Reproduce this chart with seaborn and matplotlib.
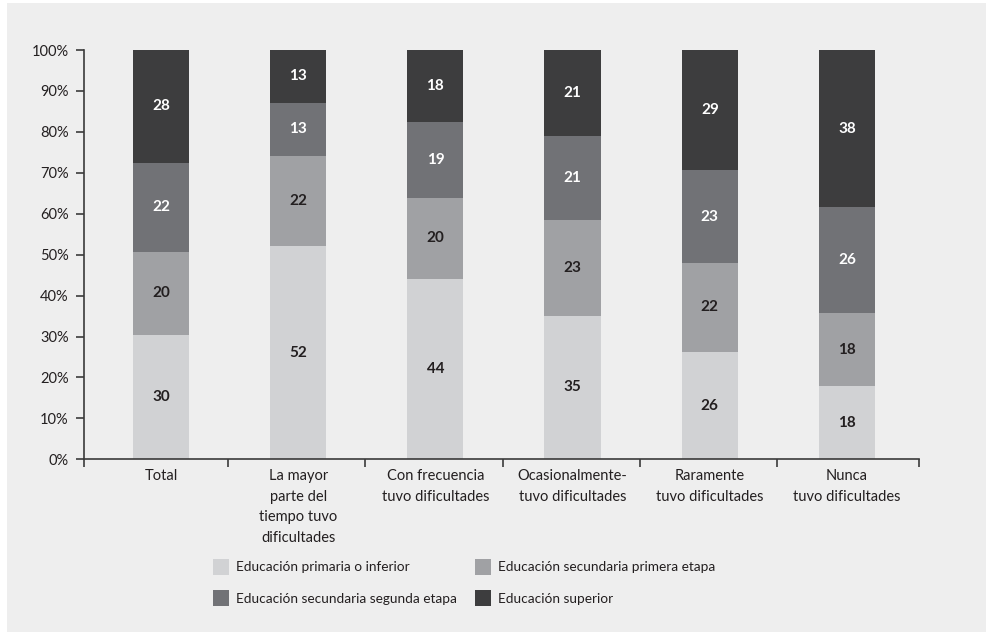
import numpy as np
import matplotlib
matplotlib.use('Agg')
import matplotlib.pyplot as plt
from matplotlib.patches import Patch, Rectangle
from matplotlib.ticker import FixedLocator, PercentFormatter
import seaborn as sns

categories = ['Total', 'La mayor\nparte del\ntiempo tuvo\ndificultades', 'Con frecuencia\ntuvo dificultades',
              'Ocasionalmente-\ntuvo dificultades', 'Raramente\ntuvo dificultades', 'Nunca\ntuvo dificultades']
levels = ['Educación primaria o inferior', 'Educación secundaria primera etapa',
          'Educación secundaria segunda etapa', 'Educación superior']

# shares per education level (%)
primaria = [30.4, 52.0, 44.1, 35.1, 26.2, 17.9]
sec_primera = [20.3, 22.1, 19.7, 23.4, 21.8, 17.8]
sec_segunda = [21.7, 13.0, 18.6, 20.6, 22.6, 25.9]
superior = [27.6, 12.9, 17.6, 20.9, 29.4, 38.4]

colors = ['#d1d2d4', '#a0a1a4', '#717276', '#3d3d3e']
text_colors = ['#231f20', '#231f20', 'white', 'white']

bg = '#eeeeee'
sns.set_style('ticks')
plt.rcParams['font.family'] = ['Lato', 'DejaVu Sans']
plt.rcParams['text.color'] = '#231f20'

fig = plt.figure(figsize=(9.86, 6.32), dpi=100, facecolor='white')
fig.patches.append(Rectangle((7 / 986, 0), 1, 629 / 632, transform=fig.transFigure,
                             facecolor=bg, edgecolor='none', zorder=-10))
ax = fig.add_axes([84 / 986, 172.7 / 632, 835 / 986, 409.3 / 632])
ax.set_facecolor('none')

series = np.array([primaria, sec_primera, sec_segunda, superior])
tops = series.cumsum(axis=0)

# stacked bars: draw cumulative heights from the tallest down
for i in range(3, -1, -1):
    sns.barplot(x=categories, y=tops[i], order=categories, color=colors[i], saturation=1,
                width=0.41, ax=ax, zorder=2, linewidth=0)

for i in range(4):
    for j in range(len(categories)):
        mid = tops[i][j] - series[i][j] / 2
        ax.text(j, mid, f'{series[i][j]:.0f}', ha='center', va='center', fontsize=11,
                fontweight='bold', color=text_colors[i], zorder=3)

ax.set_ylim(0, 100)
ax.set_xlim(-0.561, 5.525)
ax.set_yticks(range(0, 101, 10))
ax.yaxis.set_major_formatter(PercentFormatter(decimals=0))
ax.set_xlabel('')
ax.set_ylabel('')

ax.xaxis.set_minor_locator(FixedLocator([-0.561, 0.49, 1.49, 2.49, 3.49, 4.49, 5.525]))
ax.tick_params(axis='x', which='major', length=0, pad=7, labelsize=10.5, colors='#231f20')
ax.tick_params(axis='x', which='minor', length=6, width=1.2, color='#3a3a3a', direction='out')
ax.tick_params(axis='y', length=6, width=1.2, color='#3a3a3a', pad=5, labelsize=10.5,
               labelcolor='#231f20')
for lab in ax.get_xticklabels():
    lab.set_linespacing(1.6)
for s in ['top', 'right']:
    ax.spines[s].set_visible(False)
for s in ['left', 'bottom']:
    ax.spines[s].set_color('#3a3a3a')
    ax.spines[s].set_linewidth(1.2)

handles = [Patch(facecolor=c, edgecolor='none') for c in colors]
leg_kw = dict(loc='upper left', frameon=False, fontsize=9.8, handlelength=1.2, handleheight=1.4,
              handletextpad=0.5, labelspacing=1.15, borderpad=0, borderaxespad=0)
leg1 = fig.legend([handles[0], handles[2]], [levels[0], levels[2]],
                  bbox_to_anchor=(213 / 986, 1 - 559 / 632), **leg_kw)
leg2 = fig.legend([handles[1], handles[3]], [levels[1], levels[3]],
                  bbox_to_anchor=(475 / 986, 1 - 559 / 632), **leg_kw)

fig.savefig('out.png', dpi=100, facecolor=fig.get_facecolor())
